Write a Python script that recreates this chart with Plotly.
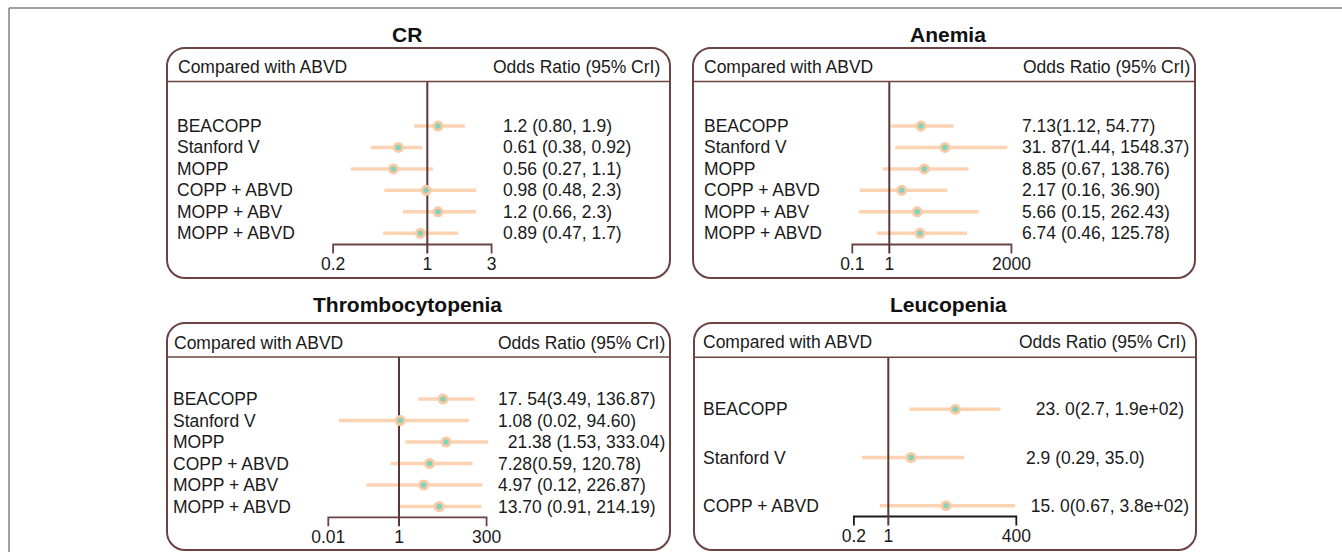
import plotly.graph_objects as go

W, H = 1342, 552

# ---------------- data ----------------
titles = ["CR", "Anemia", "Thrombocytopenia", "Leucopenia"]

cr_labels = ["BEACOPP", "Stanford V", "MOPP", "COPP + ABVD", "MOPP + ABV", "MOPP + ABVD"]
cr_or = [1.2, 0.61, 0.56, 0.98, 1.2, 0.89]
cr_lo = [0.80, 0.38, 0.27, 0.48, 0.66, 0.47]
cr_hi = [1.9, 0.92, 1.1, 2.3, 2.3, 1.7]
cr_text = ["1.2 (0.80, 1.9)", "0.61 (0.38, 0.92)", "0.56 (0.27, 1.1)",
           "0.98 (0.48, 2.3)", "1.2 (0.66, 2.3)", "0.89 (0.47, 1.7)"]
cr_ticks = [0.2, 1, 3]
cr_ticktext = ["0.2", "1", "3"]

an_labels = ["BEACOPP", "Stanford V", "MOPP", "COPP + ABVD", "MOPP + ABV", "MOPP + ABVD"]
an_or = [7.13, 31.87, 8.85, 2.17, 5.66, 6.74]
an_lo = [1.12, 1.44, 0.67, 0.16, 0.15, 0.46]
an_hi = [54.77, 1548.37, 138.76, 36.90, 262.43, 125.78]
an_text = ["7.13(1.12, 54.77)", "31. 87(1.44, 1548.37)", "8.85 (0.67, 138.76)",
           "2.17 (0.16, 36.90)", "5.66 (0.15, 262.43)", "6.74 (0.46, 125.78)"]
an_ticks = [0.1, 1, 2000]
an_ticktext = ["0.1", "1", "2000"]

th_labels = ["BEACOPP", "Stanford V", "MOPP", "COPP + ABVD", "MOPP + ABV", "MOPP + ABVD"]
th_or = [17.54, 1.08, 21.38, 7.28, 4.97, 13.70]
th_lo = [3.49, 0.02, 1.53, 0.59, 0.12, 0.91]
th_hi = [136.87, 94.60, 333.04, 120.78, 226.87, 214.19]
th_text = ["17. 54(3.49, 136.87)", "1.08 (0.02, 94.60)", "\u00a0\u00a021.38 (1.53, 333.04)",
           "7.28(0.59, 120.78)", "4.97 (0.12, 226.87)", "13.70 (0.91, 214.19)"]
th_ticks = [0.01, 1, 300]
th_ticktext = ["0.01", "1", "300"]

le_labels = ["BEACOPP", "Stanford V", "COPP + ABVD"]
le_or = [23.0, 2.9, 15.0]
le_lo = [2.7, 0.29, 0.67]
le_hi = [190.0, 35.0, 380.0]
le_text = ["\u00a0\u00a023. 0(2.7, 1.9e+02)", "2.9 (0.29, 35.0)", "\u00a015. 0(0.67, 3.8e+02)"]
le_ticks = [0.2, 1, 400]
le_ticktext = ["0.2", "1", "400"]

header_left = "Compared with ABVD"
header_right = "Odds Ratio (95% CrI)"

# ---------------- style / layout ----------------
FONT = "Liberation Sans, Arial, sans-serif"
TXT = "#1a1a1a"
BROWN = "#6b4343"
REF = "#5a3838"
PEACH = "#fdd3b4"
PEACH_M = "#fcc9a5"
TEAL = "#7ed3b9"
FS = 17.5

data = [
    dict(labels=cr_labels, OR=cr_or, lo=cr_lo, hi=cr_hi, text=cr_text, ticks=cr_ticks, tt=cr_ticktext),
    dict(labels=an_labels, OR=an_or, lo=an_lo, hi=an_hi, text=an_text, ticks=an_ticks, tt=an_ticktext),
    dict(labels=th_labels, OR=th_or, lo=th_lo, hi=th_hi, text=th_text, ticks=th_ticks, tt=th_ticktext),
    dict(labels=le_labels, OR=le_or, lo=le_lo, hi=le_hi, text=le_text, ticks=le_ticks, tt=le_ticktext),
]

panels = [
    dict(box=(167, 48, 670, 278), hdr=81.5, hdr_ty=66.5, title=(406.5, 35), row0=126, step=21.45,
         axis_y=244.5, tick_len=9, lab_y=265.5, ref_px=427.3, ppd=134.75, lx=175.5, vx=500.5,
         rx=662, axis_color=BROWN),
    dict(box=(693, 48, 1195, 278), hdr=81.5, hdr_ty=66.5, title=(948, 35), row0=126, step=21.45,
         axis_y=244.5, tick_len=9, lab_y=265.5, ref_px=889.3, ppd=37.0, lx=701.5, vx=1019.5,
         rx=1192, axis_color=BROWN),
    dict(box=(167, 323, 670, 550), hdr=357, hdr_ty=342.5, title=(407, 304), row0=399, step=21.5,
         axis_y=517.3, tick_len=9, lab_y=538.3, ref_px=399.0, ppd=35.35, lx=171.5, vx=495.5,
         rx=666.5, axis_color=BROWN),
    dict(box=(694, 323, 1196, 550), hdr=357.3, hdr_ty=341.7, title=(948.5, 304), row0=409.3, step=48.2,
         axis_y=516.5, tick_len=9, lab_y=537.7, ref_px=888.3, ppd=49.2, lx=700.5, vx=1024,
         rx=1187.5, axis_color="#1a1a1a"),
]


def px(x):
    return x / W


def py(y):
    return 1 - y / H


fig = go.Figure()
shapes = []
annotations = []
layout_axes = {}

for i, (p, d) in enumerate(zip(panels, data)):
    k = "" if i == 0 else str(i + 1)
    xa, ya = "x" + k, "y" + k
    l, t, r, b = p["box"]
    xr = [(l - p["ref_px"]) / p["ppd"], (r - p["ref_px"]) / p["ppd"]]
    layout_axes["xaxis" + k] = dict(type="log", domain=[px(l), px(r)], range=xr, visible=False,
                                    anchor=ya, fixedrange=True)
    layout_axes["yaxis" + k] = dict(domain=[py(b), py(t)], range=[b, t], visible=False,
                                    anchor=xa, fixedrange=True)

    n = len(d["labels"])
    rows = [p["row0"] + j * p["step"] for j in range(n)]

    # CI lines
    xs, ys = [], []
    for lo, hi, yy in zip(d["lo"], d["hi"], rows):
        xs += [lo, hi, None]
        ys += [yy, yy, None]
    fig.add_trace(go.Scatter(x=xs, y=ys, mode="lines", line=dict(color=PEACH, width=3.5),
                             xaxis=xa, yaxis=ya, hoverinfo="skip", showlegend=False))

    # axis bracket
    t0, t1 = d["ticks"][0], d["ticks"][-1]
    ay, tl = p["axis_y"], p["tick_len"]
    fig.add_trace(go.Scatter(x=[t0, t0, t1, t1], y=[ay + tl, ay, ay, ay + tl], mode="lines",
                             line=dict(color=p["axis_color"], width=1.8),
                             xaxis=xa, yaxis=ya, hoverinfo="skip", showlegend=False))

    # reference line at OR = 1
    fig.add_trace(go.Scatter(x=[1, 1], y=[p["hdr"], ay + tl], mode="lines",
                             line=dict(color=REF, width=2),
                             xaxis=xa, yaxis=ya, hoverinfo="skip", showlegend=False))

    # markers
    fig.add_trace(go.Scatter(x=d["OR"], y=rows, mode="markers",
                             marker=dict(size=11, color=PEACH_M, line=dict(width=0)),
                             xaxis=xa, yaxis=ya, hoverinfo="skip", showlegend=False))
    fig.add_trace(go.Scatter(x=d["OR"], y=rows, mode="markers",
                             marker=dict(size=5.5, color=TEAL, line=dict(width=0)),
                             xaxis=xa, yaxis=ya, hoverinfo="skip", showlegend=False))

    # tick labels
    fig.add_trace(go.Scatter(x=d["ticks"], y=[p["lab_y"]] * len(d["ticks"]), mode="text",
                             text=d["tt"], textposition="middle center",
                             textfont=dict(family=FONT, size=FS, color=TXT),
                             xaxis=xa, yaxis=ya, hoverinfo="skip", showlegend=False,
                             cliponaxis=False))

    # rounded box
    rr = 18
    c = 0.448
    path = (f"M {px(l)},{py(t + rr)} "
            f"C {px(l)},{py(t + rr * c)} {px(l + rr * c)},{py(t)} {px(l + rr)},{py(t)} "
            f"L {px(r - rr)},{py(t)} "
            f"C {px(r - rr * c)},{py(t)} {px(r)},{py(t + rr * c)} {px(r)},{py(t + rr)} "
            f"L {px(r)},{py(b - rr)} "
            f"C {px(r)},{py(b - rr * c)} {px(r - rr * c)},{py(b)} {px(r - rr)},{py(b)} "
            f"L {px(l + rr)},{py(b)} "
            f"C {px(l + rr * c)},{py(b)} {px(l)},{py(b - rr * c)} {px(l)},{py(b - rr)} Z")
    shapes.append(dict(type="path", xref="paper", yref="paper", path=path,
                       line=dict(color=BROWN, width=2), fillcolor="rgba(0,0,0,0)", layer="above"))
    shapes.append(dict(type="line", xref="paper", yref="paper", x0=px(l), x1=px(r),
                       y0=py(p["hdr"]), y1=py(p["hdr"]), line=dict(color=BROWN, width=1.6)))

    # title
    annotations.append(dict(xref="paper", yref="paper", x=px(p["title"][0]), y=py(p["title"][1]),
                            text=f"<b>{titles[i]}</b>", showarrow=False, xanchor="center",
                            yanchor="middle", font=dict(family=FONT, size=21, color="#111111")))
    # header texts
    annotations.append(dict(xref="paper", yref="paper", x=px(p["lx"]), y=py(p["hdr_ty"]),
                            text=header_left, showarrow=False, xanchor="left", yanchor="middle",
                            font=dict(family=FONT, size=FS, color=TXT)))
    annotations.append(dict(xref="paper", yref="paper", x=px(p["rx"]), y=py(p["hdr_ty"]),
                            text=header_right, showarrow=False, xanchor="right", yanchor="middle",
                            font=dict(family=FONT, size=FS, color=TXT)))
    # row labels and value labels
    for lab, val, yy in zip(d["labels"], d["text"], rows):
        annotations.append(dict(xref="paper", yref="paper", x=px(p["lx"]), y=py(yy),
                                text=lab, showarrow=False, xanchor="left", yanchor="middle",
                                font=dict(family=FONT, size=FS, color=TXT)))
        annotations.append(dict(xref="paper", yref="paper", x=px(p["vx"]), y=py(yy),
                                text=val, showarrow=False, xanchor="left", yanchor="middle",
                                font=dict(family=FONT, size=FS, color=TXT)))

# outer frame (top and left edges visible)
shapes.append(dict(type="line", xref="paper", yref="paper", x0=px(9), x1=1.0, y0=py(8), y1=py(8),
                   line=dict(color="#808080", width=1.5)))
shapes.append(dict(type="line", xref="paper", yref="paper", x0=px(9), x1=px(9), y0=py(8), y1=0.0,
                   line=dict(color="#808080", width=1.5)))

fig.update_layout(
    width=W, height=H,
    margin=dict(l=0, r=0, t=0, b=0),
    paper_bgcolor="white", plot_bgcolor="rgba(0,0,0,0)",
    showlegend=False,
    shapes=shapes, annotations=annotations,
    font=dict(family=FONT, size=FS, color=TXT),
    **layout_axes,
)

fig.write_html("out.html", config={"displayModeBar": False})
